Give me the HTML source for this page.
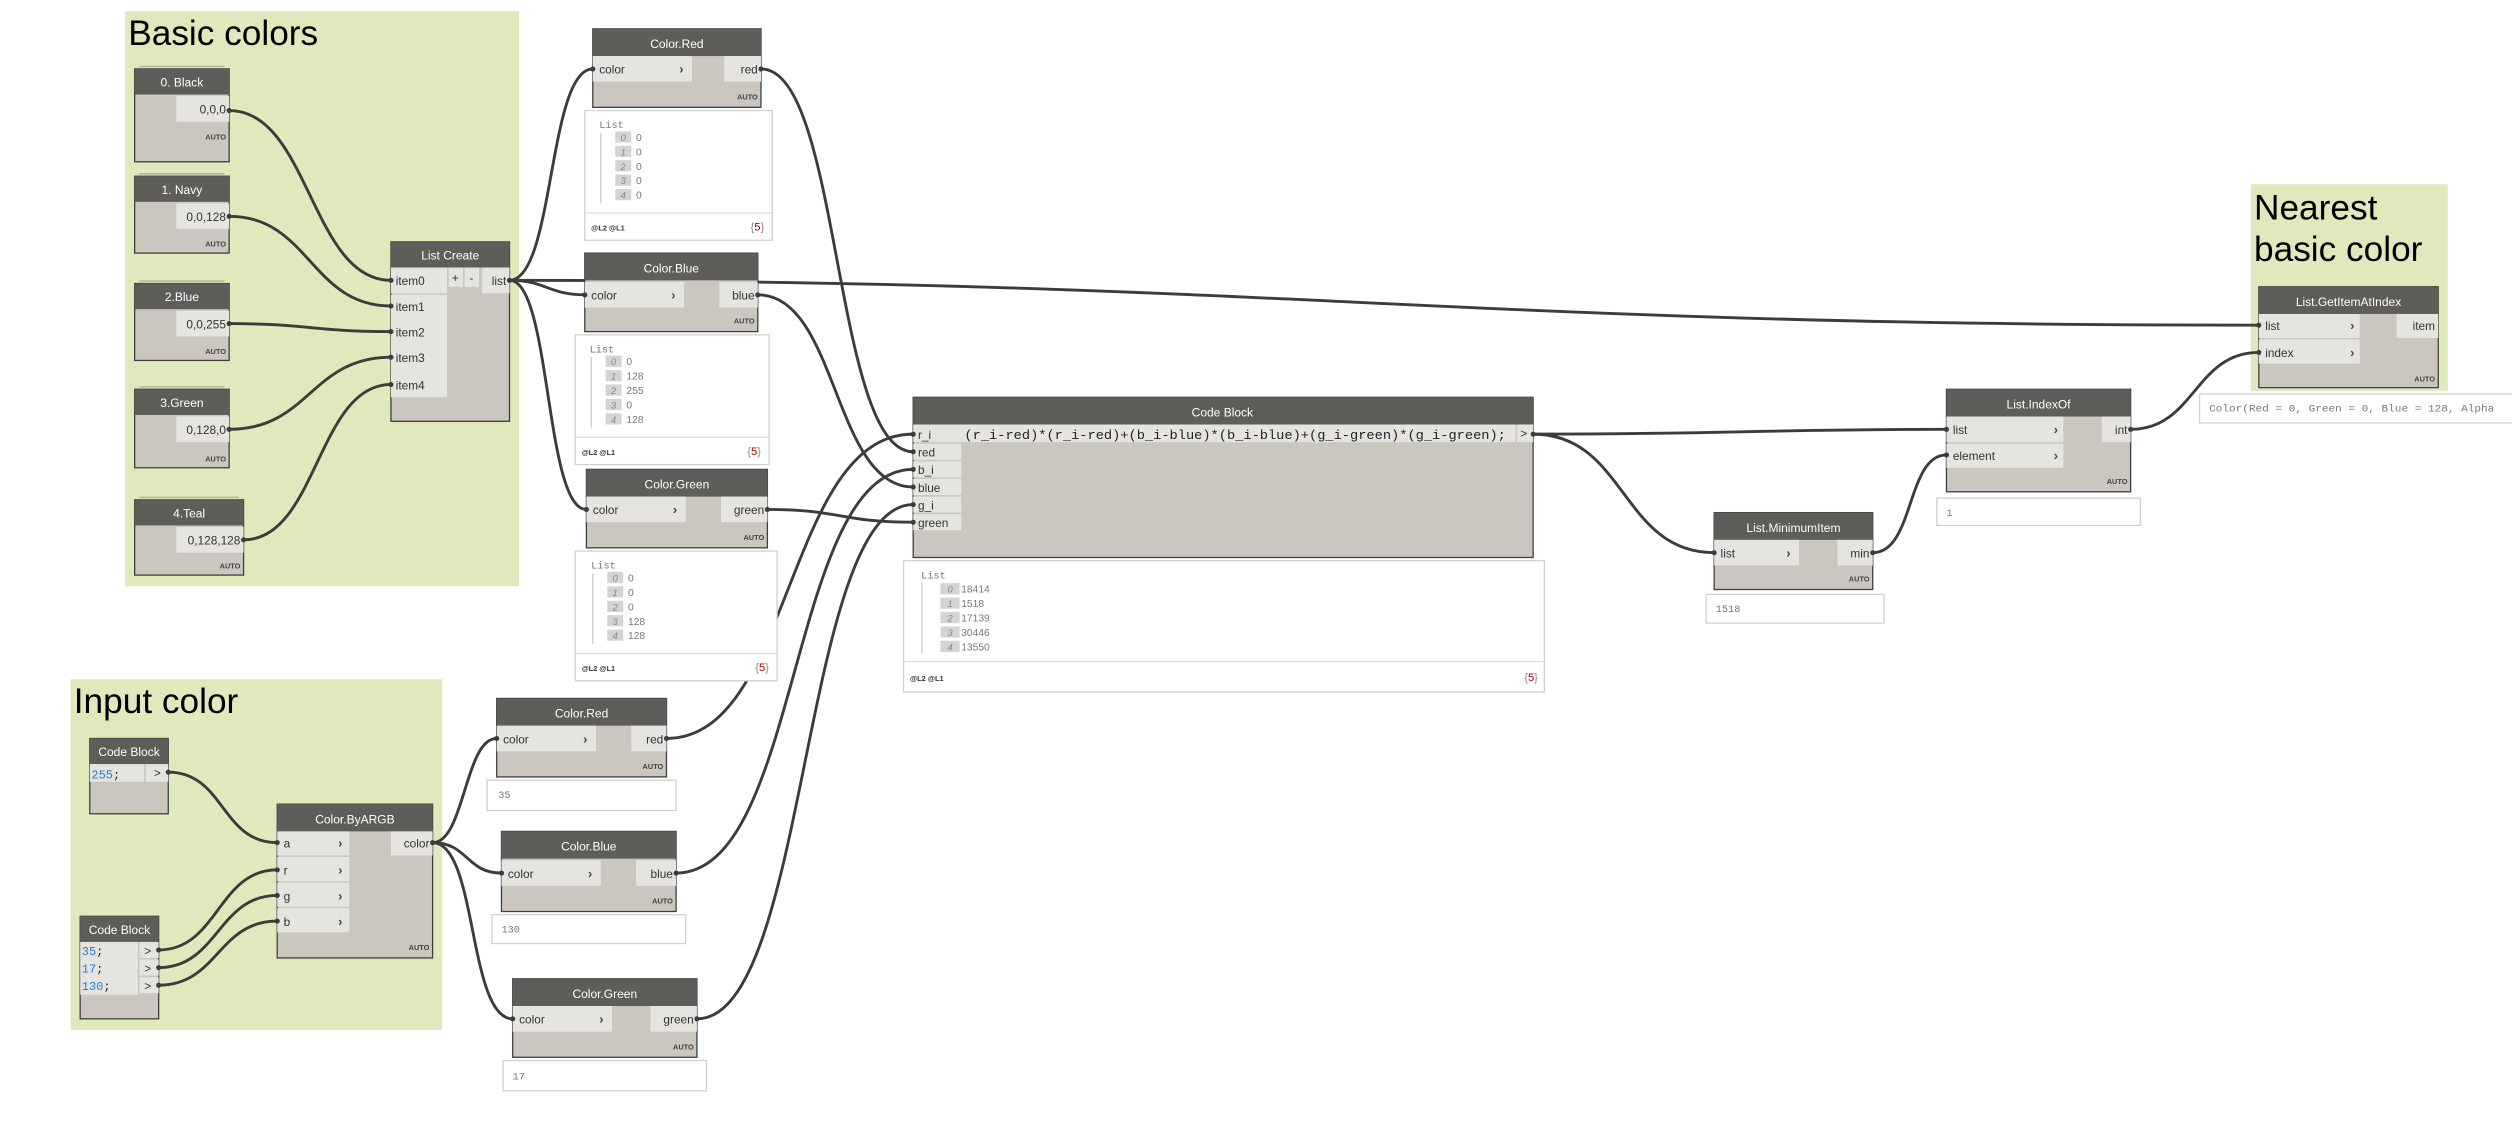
<!DOCTYPE html>
<html><head><meta charset="utf-8"><style>
html,body{margin:0;padding:0;background:#fff;}
svg{display:block;}
text{font-family:"Liberation Sans",sans-serif;}
.hd{fill:#5e5d5a;}
.bd{fill:#cbc6bf;stroke:#3d3d3d;stroke-width:0.8;}
.pt{fill:#e6e4e0;}
.ht{fill:#fff;font-size:7.5px;text-anchor:middle;}
.pl{fill:#333;font-size:7.4px;}
.pr{fill:#333;font-size:7.4px;text-anchor:end;}
.ch{fill:#444;font-size:8px;font-weight:bold;}
.au{fill:#444;font-size:4.6px;font-weight:bold;text-anchor:end;}
.w{fill:none;stroke:#3c3c3c;stroke-width:1.8;}
.pv{fill:#fff;stroke:#d0d0d0;stroke-width:0.8;}
.mono{font-family:"Liberation Mono",monospace;}
.lt{fill:#777;font-size:6.4px;}
.ib{fill:#d4d4d4;}
.it{fill:#888;font-size:6px;font-style:italic;text-anchor:middle;}
.ft{fill:#333;font-size:4.6px;font-weight:bold;}
.grp{fill:#e1e9bc;}
.gt{fill:#000;font-size:22px;}
.cb{fill:#1c7ed6;font-size:7.5px;}
</style></head><body>
<svg width="2512" height="1122" viewBox="0 0 1568 700.4" xmlns="http://www.w3.org/2000/svg">
<!-- groups -->
<rect class="grp" x="78" y="7" width="246" height="359"/>
<text class="gt" x="80" y="28">Basic colors</text>
<rect class="grp" x="1405" y="115" width="123" height="129"/>
<text class="gt" x="1407" y="137">Nearest</text>
<text class="gt" x="1407" y="163">basic color</text>
<rect class="grp" x="44" y="424" width="232" height="219"/>
<text class="gt" x="46" y="445">Input color</text>

<!-- wires -->
<g class="w">
<path d="M143 69 C193 69 194 175 244 175"/>
<path d="M143 135 C193 135 194 191 244 191"/>
<path d="M143 202 C193 202 194 207 244 207"/>
<path d="M143 268 C193 268 194 223 244 223"/>
<path d="M152 337 C198 337 198 240 244 240"/>
<path d="M318 175 C346 175 342 43 370 43"/>
<path d="M318 175 C341 175 342 184 365 184"/>
<path d="M318 175 C344 175 340 318 366 318"/>
<path d="M318 175 C800 175 900 203 1410 203"/>
<path d="M475 43 C525 43 520 282 570 282"/>
<path d="M473 184 C523 184 520 304 570 304"/>
<path d="M479 318 C525 318 524 326 570 326"/>
<path d="M416 461 C495 461 490 271 570 271"/>
<path d="M422 545 C500 545 492 293 570 293"/>
<path d="M435 636 C505 636 500 315 570 315"/>
<path d="M957 271 C1080 271 1100 268 1215 268"/>
<path d="M957 271 C1015 271 1012 345 1070 345"/>
<path d="M1169 345 C1195 345 1190 284 1215 284"/>
<path d="M1330 268 C1370 268 1370 220 1410 220"/>
<path d="M105 482 C140 482 138 526 173 526"/>
<path d="M99 593 C136 593 136 543 173 543"/>
<path d="M99 604 C136 604 136 559 173 559"/>
<path d="M99 615 C136 615 136 575 173 575"/>
<path d="M270 526 C290 526 290 461 310 461"/>
<path d="M270 526 C292 526 291 545 313 545"/>
<path d="M270 526 C298 526 292 636 320 636"/>
</g>

<!-- Basic color code blocks -->
<g>
<line x1="87" y1="41.5" x2="140" y2="41.5" stroke="#aaa" stroke-width="0.8"/>
<rect class="bd" x="84" y="43" width="59" height="58"/><rect class="hd" x="84" y="43" width="59" height="16"/>
<text class="ht" x="113.5" y="54">0. Black</text>
<rect class="pt" x="110" y="60" width="33" height="16"/><text class="pr" x="141" y="71">0,0,0</text>
<text class="au" x="141" y="87">AUTO</text>

<line x1="87" y1="108.5" x2="140" y2="108.5" stroke="#aaa" stroke-width="0.8"/>
<rect class="bd" x="84" y="110" width="59" height="48"/><rect class="hd" x="84" y="110" width="59" height="16"/>
<text class="ht" x="113.5" y="121">1. Navy</text>
<rect class="pt" x="110" y="127" width="33" height="16"/><text class="pr" x="141" y="138">0,0,128</text>
<text class="au" x="141" y="154">AUTO</text>

<line x1="87" y1="175.5" x2="140" y2="175.5" stroke="#aaa" stroke-width="0.8"/>
<rect class="bd" x="84" y="177" width="59" height="48"/><rect class="hd" x="84" y="177" width="59" height="16"/>
<text class="ht" x="113.5" y="188">2.Blue</text>
<rect class="pt" x="110" y="194" width="33" height="16"/><text class="pr" x="141" y="205">0,0,255</text>
<text class="au" x="141" y="221">AUTO</text>

<line x1="87" y1="241.5" x2="140" y2="241.5" stroke="#aaa" stroke-width="0.8"/>
<rect class="bd" x="84" y="243" width="59" height="49"/><rect class="hd" x="84" y="243" width="59" height="16"/>
<text class="ht" x="113.5" y="254">3.Green</text>
<rect class="pt" x="110" y="260" width="33" height="16"/><text class="pr" x="141" y="271">0,128,0</text>
<text class="au" x="141" y="288">AUTO</text>

<line x1="87" y1="310.5" x2="149" y2="310.5" stroke="#aaa" stroke-width="0.8"/>
<rect class="bd" x="84" y="312" width="68" height="47"/><rect class="hd" x="84" y="312" width="68" height="16"/>
<text class="ht" x="118" y="323">4.Teal</text>
<rect class="pt" x="110" y="329" width="42" height="16"/><text class="pr" x="150" y="340">0,128,128</text>
<text class="au" x="150" y="355">AUTO</text>
</g>

<!-- List Create -->
<rect class="bd" x="244" y="151" width="74" height="112"/><rect class="hd" x="244" y="151" width="74" height="16"/>
<text class="ht" x="281" y="162">List Create</text>
<rect class="pt" x="244" y="167" width="35" height="16"/><text class="pl" x="247" y="178">item0</text>
<rect class="pt" x="244" y="184" width="35" height="16"/><text class="pl" x="247" y="194">item1</text>
<rect class="pt" x="244" y="200" width="35" height="16"/><text class="pl" x="247" y="210">item2</text>
<rect class="pt" x="244" y="216" width="35" height="16"/><text class="pl" x="247" y="226">item3</text>
<rect class="pt" x="244" y="232" width="35" height="16"/><text class="pl" x="247" y="243">item4</text>
<rect class="pt" x="280" y="167" width="9" height="12"/><text class="pl" x="282" y="176">+</text>
<rect class="pt" x="290" y="167" width="9" height="12"/><text class="pl" x="293" y="176">-</text>
<rect class="pt" x="301" y="167" width="17" height="16"/><text class="pr" x="316" y="178">list</text>

<!-- Color.Red top -->
<rect class="bd" x="370" y="18" width="105" height="49"/><rect class="hd" x="370" y="18" width="105" height="17"/>
<text class="ht" x="422.5" y="30">Color.Red</text>
<rect class="pt" x="370" y="35" width="62" height="16"/><text class="pl" x="374" y="46">color</text><text class="ch" x="424" y="46">›</text>
<rect class="pt" x="452" y="35" width="23" height="16"/><text class="pr" x="473" y="46">red</text>
<text class="au" x="473" y="62">AUTO</text>
<rect class="pv" x="365" y="69" width="117" height="81"/>
<line x1="365" y1="133" x2="482" y2="133" stroke="#ddd" stroke-width="0.8"/>
<text class="mono lt" x="374" y="80">List</text>
<line x1="375" y1="83" x2="375" y2="127" stroke="#bbb" stroke-width="0.6"/>
<g class="mono">
<rect class="ib" x="384" y="82" width="10" height="7"/><text class="it" x="389" y="88">0</text><text class="lt" x="397" y="88">0</text>
<rect class="ib" x="384" y="91" width="10" height="7"/><text class="it" x="389" y="97">1</text><text class="lt" x="397" y="97">0</text>
<rect class="ib" x="384" y="100" width="10" height="7"/><text class="it" x="389" y="106">2</text><text class="lt" x="397" y="106">0</text>
<rect class="ib" x="384" y="109" width="10" height="7"/><text class="it" x="389" y="115">3</text><text class="lt" x="397" y="115">0</text>
<rect class="ib" x="384" y="118" width="10" height="7"/><text class="it" x="389" y="124">4</text><text class="lt" x="397" y="124">0</text>
</g>
<text class="ft" x="369" y="144">@L2 @L1</text>
<text x="477" y="144" font-size="7" text-anchor="end" fill="#888">{<tspan fill="#a00">5</tspan>}</text>

<!-- Color.Blue top -->
<rect class="bd" x="365" y="158" width="108" height="49"/><rect class="hd" x="365" y="158" width="108" height="17"/>
<text class="ht" x="419" y="170">Color.Blue</text>
<rect class="pt" x="365" y="176" width="62" height="16"/><text class="pl" x="369" y="187">color</text><text class="ch" x="419" y="187">›</text>
<rect class="pt" x="449" y="176" width="24" height="16"/><text class="pr" x="471" y="187">blue</text>
<text class="au" x="471" y="202">AUTO</text>
<rect class="pv" x="359" y="209" width="121" height="81"/>
<line x1="359" y1="273" x2="480" y2="273" stroke="#ddd" stroke-width="0.8"/>
<text class="mono lt" x="368" y="220">List</text>
<line x1="369" y1="223" x2="369" y2="267" stroke="#bbb" stroke-width="0.6"/>
<g class="mono">
<rect class="ib" x="378" y="222" width="10" height="7"/><text class="it" x="383" y="228">0</text><text class="lt" x="391" y="228">0</text>
<rect class="ib" x="378" y="231" width="10" height="7"/><text class="it" x="383" y="237">1</text><text class="lt" x="391" y="237">128</text>
<rect class="ib" x="378" y="240" width="10" height="7"/><text class="it" x="383" y="246">2</text><text class="lt" x="391" y="246">255</text>
<rect class="ib" x="378" y="249" width="10" height="7"/><text class="it" x="383" y="255">3</text><text class="lt" x="391" y="255">0</text>
<rect class="ib" x="378" y="258" width="10" height="7"/><text class="it" x="383" y="264">4</text><text class="lt" x="391" y="264">128</text>
</g>
<text class="ft" x="363" y="284">@L2 @L1</text>
<text x="475" y="284" font-size="7" text-anchor="end" fill="#888">{<tspan fill="#a00">5</tspan>}</text>

<!-- Color.Green top -->
<rect class="bd" x="366" y="293" width="113" height="49"/><rect class="hd" x="366" y="293" width="113" height="17"/>
<text class="ht" x="422.5" y="305">Color.Green</text>
<rect class="pt" x="366" y="310" width="62" height="16"/><text class="pl" x="370" y="321">color</text><text class="ch" x="420" y="321">›</text>
<rect class="pt" x="450" y="310" width="29" height="16"/><text class="pr" x="477" y="321">green</text>
<text class="au" x="477" y="337">AUTO</text>
<rect class="pv" x="359" y="344" width="126" height="81"/>
<line x1="359" y1="408" x2="485" y2="408" stroke="#ddd" stroke-width="0.8"/>
<text class="mono lt" x="369" y="355">List</text>
<line x1="370" y1="358" x2="370" y2="402" stroke="#bbb" stroke-width="0.6"/>
<g class="mono">
<rect class="ib" x="379" y="357" width="10" height="7"/><text class="it" x="384" y="363">0</text><text class="lt" x="392" y="363">0</text>
<rect class="ib" x="379" y="366" width="10" height="7"/><text class="it" x="384" y="372">1</text><text class="lt" x="392" y="372">0</text>
<rect class="ib" x="379" y="375" width="10" height="7"/><text class="it" x="384" y="381">2</text><text class="lt" x="392" y="381">0</text>
<rect class="ib" x="379" y="384" width="10" height="7"/><text class="it" x="384" y="390">3</text><text class="lt" x="392" y="390">128</text>
<rect class="ib" x="379" y="393" width="10" height="7"/><text class="it" x="384" y="399">4</text><text class="lt" x="392" y="399">128</text>
</g>
<text class="ft" x="363" y="419">@L2 @L1</text>
<text x="480" y="419" font-size="7" text-anchor="end" fill="#888">{<tspan fill="#a00">5</tspan>}</text>

<!-- Big Code Block -->
<rect class="bd" x="570" y="248" width="387" height="100"/><rect class="hd" x="570" y="248" width="387" height="17"/>
<text class="ht" x="763" y="260">Code Block</text>
<rect class="pt" x="570" y="265" width="30" height="11"/><text class="pl" x="573" y="274">r_i</text>
<rect class="pt" x="570" y="277" width="30" height="10"/><text class="pl" x="573" y="285">red</text>
<rect class="pt" x="570" y="288" width="30" height="10"/><text class="pl" x="573" y="296">b_i</text>
<rect class="pt" x="570" y="299" width="30" height="10"/><text class="pl" x="573" y="307">blue</text>
<rect class="pt" x="570" y="310" width="30" height="10"/><text class="pl" x="573" y="318">g_i</text>
<rect class="pt" x="570" y="321" width="30" height="10"/><text class="pl" x="573" y="329">green</text>
<rect class="pt" x="600" y="265" width="346" height="11"/>
<text class="mono" x="602" y="274" font-size="8.3" fill="#222" textLength="338" lengthAdjust="spacingAndGlyphs">(r_i-red)*(r_i-red)+(b_i-blue)*(b_i-blue)+(g_i-green)*(g_i-green);</text>
<rect class="pt" x="947" y="265" width="10" height="11"/><text class="pl" x="949" y="273" font-size="6">&gt;</text>
<rect class="pv" x="564" y="350" width="400" height="82"/>
<line x1="564" y1="413" x2="964" y2="413" stroke="#ddd" stroke-width="0.8"/>
<text class="mono lt" x="575" y="361">List</text>
<line x1="575.5" y1="364" x2="575.5" y2="408" stroke="#bbb" stroke-width="0.6"/>
<g class="mono">
<rect class="ib" x="587" y="364" width="12" height="7"/><text class="it" x="593" y="370">0</text><text class="lt" x="600" y="370">18414</text>
<rect class="ib" x="587" y="373" width="12" height="7"/><text class="it" x="593" y="379">1</text><text class="lt" x="600" y="379">1518</text>
<rect class="ib" x="587" y="382" width="12" height="7"/><text class="it" x="593" y="388">2</text><text class="lt" x="600" y="388">17139</text>
<rect class="ib" x="587" y="391" width="12" height="7"/><text class="it" x="593" y="397">3</text><text class="lt" x="600" y="397">30446</text>
<rect class="ib" x="587" y="400" width="12" height="7"/><text class="it" x="593" y="406">4</text><text class="lt" x="600" y="406">13550</text>
</g>
<text class="ft" x="568" y="425">@L2 @L1</text>
<text x="960" y="425" font-size="7" text-anchor="end" fill="#888">{<tspan fill="#a00">5</tspan>}</text>

<!-- List.MinimumItem -->
<rect class="bd" x="1070" y="320" width="99" height="48"/><rect class="hd" x="1070" y="320" width="99" height="17"/>
<text class="ht" x="1119.5" y="332">List.MinimumItem</text>
<rect class="pt" x="1070" y="337" width="53" height="16"/><text class="pl" x="1074" y="348">list</text><text class="ch" x="1115" y="348">›</text>
<rect class="pt" x="1147" y="337" width="22" height="16"/><text class="pr" x="1167" y="348">min</text>
<text class="au" x="1167" y="363">AUTO</text>
<rect class="pv" x="1065" y="371" width="111" height="18"/>
<text class="mono lt" x="1071" y="382">1518</text>

<!-- List.IndexOf -->
<rect class="bd" x="1215" y="243" width="115" height="64"/><rect class="hd" x="1215" y="243" width="115" height="17"/>
<text class="ht" x="1272.5" y="255">List.IndexOf</text>
<rect class="pt" x="1215" y="260" width="73" height="16"/><text class="pl" x="1219" y="271">list</text><text class="ch" x="1282" y="271">›</text>
<rect class="pt" x="1215" y="277" width="73" height="15"/><text class="pl" x="1219" y="287">element</text><text class="ch" x="1282" y="287">›</text>
<rect class="pt" x="1312" y="260" width="18" height="16"/><text class="pr" x="1328" y="271">int</text>
<text class="au" x="1328" y="302">AUTO</text>
<rect class="pv" x="1209" y="311" width="127" height="17"/>
<text class="mono lt" x="1215" y="322">1</text>

<!-- List.GetItemAtIndex -->
<rect class="bd" x="1410" y="179" width="112" height="63"/><rect class="hd" x="1410" y="179" width="112" height="17"/>
<text class="ht" x="1466" y="191">List.GetItemAtIndex</text>
<rect class="pt" x="1410" y="196" width="63" height="15"/><text class="pl" x="1414" y="206">list</text><text class="ch" x="1467" y="206">›</text>
<rect class="pt" x="1410" y="212" width="63" height="15"/><text class="pl" x="1414" y="223">index</text><text class="ch" x="1467" y="223">›</text>
<rect class="pt" x="1496" y="196" width="26" height="15"/><text class="pr" x="1520" y="206">item</text>
<text class="au" x="1520" y="238">AUTO</text>
<rect class="pv" x="1373" y="246" width="200" height="18"/>
<text class="mono lt" x="1379" y="257" textLength="178" lengthAdjust="spacingAndGlyphs">Color(Red = 0, Green = 0, Blue = 128, Alpha</text>

<!-- Input color code blocks -->
<rect class="bd" x="56" y="461" width="49" height="47"/><rect class="hd" x="56" y="461" width="49" height="16"/>
<text class="ht" x="80.5" y="472">Code Block</text>
<rect class="pt" x="56" y="477" width="34" height="11"/><text class="mono cb" x="57" y="486">255<tspan fill="#222">;</tspan></text>
<rect class="pt" x="91" y="477" width="14" height="11"/><text class="pl" x="96" y="485" font-size="6">&gt;</text>

<rect class="bd" x="50" y="572" width="49" height="64"/><rect class="hd" x="50" y="572" width="49" height="16"/>
<text class="ht" x="74.5" y="583">Code Block</text>
<rect class="pt" x="50" y="588" width="36" height="33"/>
<text class="mono cb" x="51" y="596">35<tspan fill="#222">;</tspan></text>
<text class="mono cb" x="51" y="607">17<tspan fill="#222">;</tspan></text>
<text class="mono cb" x="51" y="618">130<tspan fill="#222">;</tspan></text>
<rect class="pt" x="87" y="588" width="12" height="10"/><text class="pl" x="90" y="596" font-size="6">&gt;</text>
<rect class="pt" x="87" y="599" width="12" height="10"/><text class="pl" x="90" y="607" font-size="6">&gt;</text>
<rect class="pt" x="87" y="610" width="12" height="10"/><text class="pl" x="90" y="618" font-size="6">&gt;</text>

<!-- Color.ByARGB -->
<rect class="bd" x="173" y="502" width="97" height="96"/><rect class="hd" x="173" y="502" width="97" height="17"/>
<text class="ht" x="221.5" y="514">Color.ByARGB</text>
<rect class="pt" x="173" y="519" width="45" height="15"/><text class="pl" x="177" y="529">a</text><text class="ch" x="211" y="529">›</text>
<rect class="pt" x="173" y="535" width="45" height="15"/><text class="pl" x="177" y="546">r</text><text class="ch" x="211" y="546">›</text>
<rect class="pt" x="173" y="551" width="45" height="15"/><text class="pl" x="177" y="562">g</text><text class="ch" x="211" y="562">›</text>
<rect class="pt" x="173" y="567" width="45" height="15"/><text class="pl" x="177" y="578">b</text><text class="ch" x="211" y="578">›</text>
<rect class="pt" x="244" y="519" width="26" height="15"/><text class="pr" x="268" y="529">color</text>
<text class="au" x="268" y="593">AUTO</text>

<!-- Color.Red 2 -->
<rect class="bd" x="310" y="436" width="106" height="49"/><rect class="hd" x="310" y="436" width="106" height="17"/>
<text class="ht" x="363" y="448">Color.Red</text>
<rect class="pt" x="310" y="453" width="62" height="16"/><text class="pl" x="314" y="464">color</text><text class="ch" x="364" y="464">›</text>
<rect class="pt" x="394" y="453" width="22" height="16"/><text class="pr" x="414" y="464">red</text>
<text class="au" x="414" y="480">AUTO</text>
<rect class="pv" x="304" y="487" width="118" height="19"/>
<text class="mono lt" x="311" y="498">35</text>

<!-- Color.Blue 2 -->
<rect class="bd" x="313" y="519" width="109" height="50"/><rect class="hd" x="313" y="519" width="109" height="17"/>
<text class="ht" x="367.5" y="531">Color.Blue</text>
<rect class="pt" x="313" y="537" width="62" height="16"/><text class="pl" x="317" y="548">color</text><text class="ch" x="367" y="548">›</text>
<rect class="pt" x="397" y="537" width="25" height="16"/><text class="pr" x="420" y="548">blue</text>
<text class="au" x="420" y="564">AUTO</text>
<rect class="pv" x="307" y="571" width="121" height="18"/>
<text class="mono lt" x="313" y="582">130</text>

<!-- Color.Green 2 -->
<rect class="bd" x="320" y="611" width="115" height="49"/><rect class="hd" x="320" y="611" width="115" height="17"/>
<text class="ht" x="377.5" y="623">Color.Green</text>
<rect class="pt" x="320" y="628" width="62" height="16"/><text class="pl" x="324" y="639">color</text><text class="ch" x="374" y="639">›</text>
<rect class="pt" x="406" y="628" width="29" height="16"/><text class="pr" x="433" y="639">green</text>
<text class="au" x="433" y="655">AUTO</text>
<rect class="pv" x="314" y="662" width="127" height="19"/>
<text class="mono lt" x="320" y="674">17</text>

<!-- port knobs -->
<g fill="#3c3c3c">
<circle cx="143" cy="69" r="1.6"/><circle cx="143" cy="135" r="1.6"/><circle cx="143" cy="202" r="1.6"/><circle cx="143" cy="268" r="1.6"/><circle cx="152" cy="337" r="1.6"/>
<circle cx="244" cy="175" r="1.6"/><circle cx="244" cy="191" r="1.6"/><circle cx="244" cy="207" r="1.6"/><circle cx="244" cy="223" r="1.6"/><circle cx="244" cy="240" r="1.6"/>
<circle cx="318" cy="175" r="1.6"/><circle cx="370" cy="43" r="1.6"/><circle cx="365" cy="184" r="1.6"/><circle cx="366" cy="318" r="1.6"/>
<circle cx="475" cy="43" r="1.6"/><circle cx="473" cy="184" r="1.6"/><circle cx="479" cy="318" r="1.6"/>
<circle cx="570" cy="271" r="1.6"/><circle cx="570" cy="282" r="1.6"/><circle cx="570" cy="293" r="1.6"/><circle cx="570" cy="304" r="1.6"/><circle cx="570" cy="315" r="1.6"/><circle cx="570" cy="326" r="1.6"/>
<circle cx="957" cy="271" r="1.6"/><circle cx="1070" cy="345" r="1.6"/><circle cx="1169" cy="345" r="1.6"/><circle cx="1215" cy="268" r="1.6"/><circle cx="1215" cy="284" r="1.6"/>
<circle cx="1330" cy="268" r="1.6"/><circle cx="1410" cy="203" r="1.6"/><circle cx="1410" cy="220" r="1.6"/>
<circle cx="105" cy="482" r="1.6"/><circle cx="99" cy="593" r="1.6"/><circle cx="99" cy="604" r="1.6"/><circle cx="99" cy="615" r="1.6"/>
<circle cx="173" cy="526" r="1.6"/><circle cx="173" cy="543" r="1.6"/><circle cx="173" cy="559" r="1.6"/><circle cx="173" cy="575" r="1.6"/>
<circle cx="270" cy="526" r="1.6"/><circle cx="310" cy="461" r="1.6"/><circle cx="313" cy="545" r="1.6"/><circle cx="320" cy="636" r="1.6"/>
<circle cx="416" cy="461" r="1.6"/><circle cx="422" cy="545" r="1.6"/><circle cx="435" cy="636" r="1.6"/>
</g>
</svg>
</body></html>
